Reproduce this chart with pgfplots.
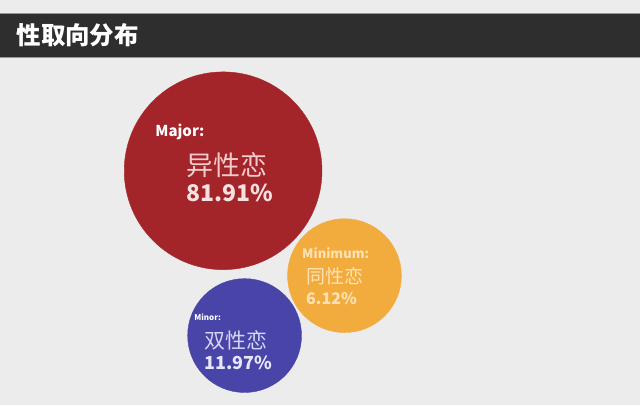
\documentclass[border=0pt]{standalone}
\usepackage{pgfplots}
\pgfplotsset{compat=1.18}
\usepackage{fontspec}
\setmainfont{Noto Sans CJK SC}
\definecolor{bg}{RGB}{236,236,236}
\definecolor{bar}{RGB}{46,46,46}
\definecolor{barline}{RGB}{150,150,150}
\definecolor{redc}{RGB}{163,37,42}
\definecolor{bluec}{RGB}{72,68,168}
\definecolor{orangec}{RGB}{242,172,62}
\definecolor{redtxt}{RGB}{242,204,204}
\definecolor{bluetxt}{RGB}{214,214,242}
\definecolor{orangetxt}{RGB}{252,226,180}
\begin{document}
\begin{tikzpicture}
\begin{axis}[
  set layers,
  scale only axis, width=640pt, height=406pt,
  xmin=0, xmax=640, ymin=0, ymax=406, y dir=reverse,
  axis lines=none, xtick=\empty, ytick=\empty,
  clip=false,
]
\begin{pgfonlayer}{axis background}
\fill[bg] (rel axis cs:0,0) rectangle (rel axis cs:1,1);
\fill[bar] (axis cs:0,13) rectangle (axis cs:640,57);
\draw[barline, line width=0.8pt] (axis cs:0,13) -- (axis cs:640,13);
\draw[barline, line width=0.8pt] (axis cs:0,57) -- (axis cs:640,57);
\end{pgfonlayer}

% circles: x, y (pixel positions), radius
\addplot[color=redc, only marks, mark=*, mark options={fill=redc, draw=redc}, mark size=99pt] coordinates {(223,171)};
\addplot[color=orangec, only marks, mark=*, mark options={fill=orangec, draw=orangec}, mark size=57pt] coordinates {(344.5,276)};
\addplot[color=bluec, only marks, mark=*, mark options={fill=bluec, draw=bluec}, mark size=57pt] coordinates {(244.5,336)};

% labels
\begin{pgfonlayer}{axis foreground}
\node[anchor=west, text=white, font=\fontsize{24.5}{24.5}\selectfont\bfseries, inner sep=0pt] at (axis cs:16,35) {性取向分布};

\node[anchor=west, inner sep=0pt, text=white, font=\fontsize{15}{15}\selectfont\bfseries] at (axis cs:155,132) {Major:};
\node[anchor=west, inner sep=0pt, text=redtxt, font=\fontsize{27}{27}\selectfont] at (axis cs:186,165) {异性恋};
\node[anchor=west, inner sep=0pt, text=redtxt!60!white, font=\fontsize{23}{23}\selectfont\bfseries] at (axis cs:186,193) {81.91\%};

\node[anchor=west, inner sep=0pt, text=orangetxt, font=\fontsize{13}{13}\selectfont\bfseries] at (axis cs:302,254) {Minimum:};
\node[anchor=west, inner sep=0pt, text=orangetxt, font=\fontsize{19}{19}\selectfont] at (axis cs:306,277) {同性恋};
\node[anchor=west, inner sep=0pt, text=orangetxt, font=\fontsize{16}{16}\selectfont\bfseries] at (axis cs:306,299) {6.12\%};

\node[anchor=west, inner sep=0pt, text=white, font=\fontsize{8}{8}\selectfont\bfseries] at (axis cs:194,318) {Minor:};
\node[anchor=west, inner sep=0pt, text=bluetxt, font=\fontsize{21}{21}\selectfont] at (axis cs:204,341) {双性恋};
\node[anchor=west, inner sep=0pt, text=bluetxt!60!white, font=\fontsize{18}{18}\selectfont\bfseries] at (axis cs:204,363) {11.97\%};
\end{pgfonlayer}
\end{axis}
\end{tikzpicture}
\end{document}
